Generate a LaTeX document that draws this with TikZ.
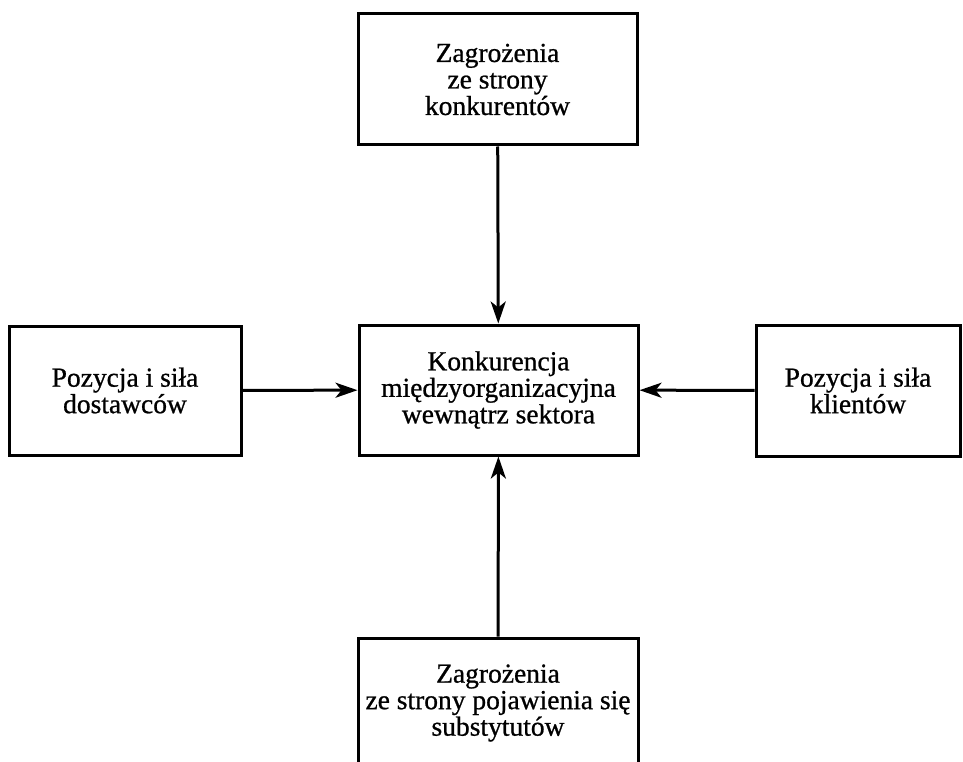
\documentclass[tikz,border=0pt]{standalone}
\usepackage{fontspec}
\setmainfont{Liberation Serif}[FakeBold=0.8]
\usetikzlibrary{arrows.meta}

\tikzset{
  box/.style={draw, line width=3pt, align=center, inner sep=0pt,
    font=\fontsize{27.5}{26.5}\selectfont},
  arr/.style={line width=3pt, -{Stealth[length=22pt,width=15pt,inset=6pt]}}
}

\begin{document}
\begin{tikzpicture}[x=1pt,y=-1pt]
  \useasboundingbox (0,0) rectangle (963,762);

  % the five forces
  \node[box, minimum width=279pt, minimum height=131pt] (threat) at (497.5,79.5)
    {Zagrożenia\\ze strony\\konkurentów};
  \node[box, minimum width=279pt, minimum height=130pt] (rivalry) at (498.5,390)
    {Konkurencja\\międzyorganizacyjna\\wewnątrz sektora};
  \node[box, minimum width=232pt, minimum height=129pt] (suppliers) at (125,390.5)
    {Pozycja i siła\\dostawców};
  \node[box, minimum width=204pt, minimum height=131pt] (clients) at (858,390.5)
    {Pozycja i siła\\klientów};
  \node[box, minimum width=280pt, minimum height=130pt] (subst) at (498,703)
    {Zagrożenia\\ze strony pojawienia się\\substytutów};

  % influences on rivalry
  \draw[arr] (threat) -- (rivalry);
  \draw[arr] (subst) -- (rivalry);
  \draw[arr] (suppliers) -- (rivalry);
  \draw[arr] (clients) -- (rivalry);
\end{tikzpicture}
\end{document}
